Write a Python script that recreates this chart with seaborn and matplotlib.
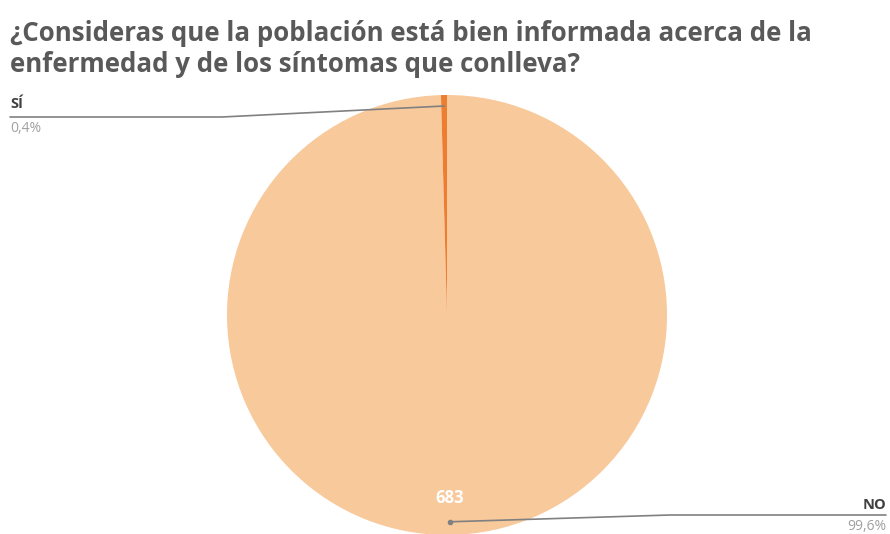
import numpy as np
import matplotlib
matplotlib.use("Agg")
import matplotlib.pyplot as plt
import seaborn as sns

sns.set_theme(style="white")
plt.rcParams['font.family'] = ['Open Sans', 'DejaVu Sans']

categories = ["NO", "SÍ"]
counts = [683, 3]
colors = ["#F8C99B", "#ED7D31"]
title = "¿Consideras que la población está bien informada acerca de la\nenfermedad y de los síntomas que conlleva?"

W, H = 890, 534
fig = plt.figure(figsize=(W / 100, H / 100), dpi=100)
fig.patch.set_facecolor("white")

# pie axes: centre and radius in pixels
cx, cy, r = 447, 315, 220
ax = fig.add_axes([(cx - r) / W, (H - cy - r) / H, 2 * r / W, 2 * r / H])

wedges, _ = ax.pie(counts, colors=colors, startangle=90, counterclock=False,
                   radius=1, wedgeprops=dict(linewidth=0))
for w in wedges:
    w.set_clip_on(False)
ax.set_xlim(-1, 1)
ax.set_ylim(-1, 1)
ax.set_aspect("equal")
ax.axis("off")

total = sum(counts)
pcts = [c / total * 100 for c in counts]

def px(x, y):
    return x / W, 1 - y / H

def to_px(ang, rr):
    a = np.deg2rad(ang)
    return cx + rr * r * np.cos(a), cy - rr * r * np.sin(a)

mids = [(w.theta1 + w.theta2) / 2 for w in wedges]

# value label inside the large slice
vx, vy = to_px(mids[0], 0.83)
fig.text(*px(vx, vy), str(counts[0]), color="white", fontsize=12, fontweight="bold",
         ha="center", va="center")

grey = "#808080"
# leader line + label for NO (right)
ex, ey = to_px(mids[0], 0.94)
fig.add_artist(plt.Line2D([px(ex, ey)[0], px(670, 515)[0], px(886, 515)[0]],
                          [px(ex, ey)[1], px(670, 515)[1], px(886, 515)[1]],
                          color=grey, lw=1.2, transform=fig.transFigure))
fig.add_artist(plt.Line2D([px(ex, ey)[0]], [px(ex, ey)[1]], marker="o", ms=3,
                          color=grey, transform=fig.transFigure))
fig.text(*px(886, 505), categories[0], color="#404040", fontsize=10.5, fontweight="bold",
         ha="right", va="center")
fig.text(*px(886, 527), f"{pcts[0]:.1f}%".replace(".", ","), color="#A0A0A0",
         fontsize=10, ha="right", va="center")

# leader line + label for SÍ (left)
sx, sy = to_px(mids[1], 0.95)
fig.add_artist(plt.Line2D([px(sx, sy)[0], px(222, 117)[0], px(10, 117)[0]],
                          [px(sx, sy)[1], px(222, 117)[1], px(10, 117)[1]],
                          color=grey, lw=1.2, transform=fig.transFigure))
fig.text(*px(10, 104), categories[1], color="#404040", fontsize=10.5, fontweight="bold",
         ha="left", va="center")
fig.text(*px(10, 128), f"{pcts[1]:.1f}%".replace(".", ","), color="#A0A0A0",
         fontsize=10, ha="left", va="center")

fig.text(*px(10, 49), title, color="#595959", fontsize=18.6, fontweight="bold",
         ha="left", va="center", linespacing=1.2)

fig.savefig("out.png", dpi=100, facecolor="white")
